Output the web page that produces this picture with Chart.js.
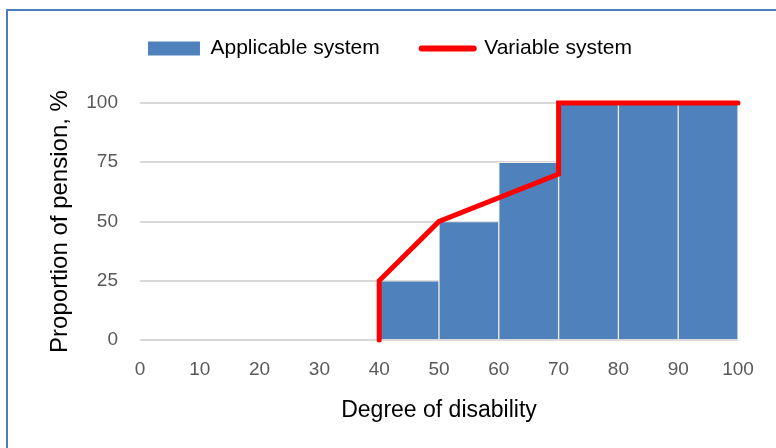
<!DOCTYPE html>
<html>
<head>
<meta charset="utf-8">
<script src="https://cdn.jsdelivr.net/npm/chart.js@4/dist/chart.umd.min.js"></script>
<style>
  html, body { margin: 0; padding: 0; background: #fff; overflow: hidden; }
  #wrap { position: relative; width: 776px; height: 448px; }
  #frame { position: absolute; left: 6px; top: 9px; width: 900px; height: 600px;
           border-left: 2px solid #4a7ebb; border-top: 2px solid #4a7ebb; }
  canvas { position: absolute; left: 0; top: 0; }
</style>
</head>
<body>
<div id="wrap">
  <div id="frame"></div>
  <canvas id="chart" width="776" height="448"></canvas>
</div>
<script>
// degree of disability bands (centre of each 10-point band) and proportion paid
const bandCentres = [45, 55, 65, 75, 85, 95];
const applicableValues = [25, 50, 75, 100, 100, 100];

// variable system: (degree, proportion) break points
const variableX = [40, 40, 50, 70, 70, 100];
const variableY = [0, 25, 50, 70, 100, 100];

const xTicks = [0, 10, 20, 30, 40, 50, 60, 70, 80, 90, 100];
const yTicks = [0, 25, 50, 75, 100];

const FONT = "'Liberation Sans', Arial, sans-serif";

// push the plot down a bit below the legend
const legendGap = {
  id: 'legendGap',
  beforeInit(chart) {
    const fit = chart.legend.fit;
    chart.legend.fit = function() {
      fit.bind(chart.legend)();
      this.height += 34;
    };
  }
};

const ctx = document.getElementById('chart').getContext('2d');

new Chart(ctx, {
  type: 'bar',
  data: {
    datasets: [
      {
        type: 'bar',
        label: 'Applicable system',
        data: bandCentres.map((x, i) => ({ x: x, y: applicableValues[i] })),
        backgroundColor: '#4f81bd',
        borderColor: '#eeece1',
        borderWidth: 1,
        barPercentage: 1,
        categoryPercentage: 1,
        order: 2
      },
      {
        type: 'line',
        label: 'Variable system',
        data: variableX.map((x, i) => ({ x: x, y: variableY[i] })),
        borderColor: '#ff0000',
        backgroundColor: '#ff0000',
        borderWidth: 5,
        borderCapStyle: 'round',
        pointRadius: 0,
        tension: 0,
        clip: false,
        order: 1
      }
    ]
  },
  plugins: [legendGap],
  options: {
    responsive: false,
    animation: false,
    layout: {
      padding: { left: 42, right: 38, top: -4, bottom: 20 }
    },
    plugins: {
      legend: {
        position: 'top',
        labels: {
          usePointStyle: true,
          pointStyleWidth: 52,
          boxHeight: 14,
          padding: 42,
          color: '#000',
          font: { family: FONT, size: 21 },
          generateLabels: function(chart) {
            return chart.data.datasets.map((ds, i) => ({
              text: ds.label,
              datasetIndex: i,
              fillStyle: ds.type === 'bar' ? '#4f81bd' : '#ff0000',
              strokeStyle: ds.type === 'bar' ? '#4f81bd' : '#ff0000',
              lineWidth: ds.type === 'bar' ? 0 : 6,
              lineCap: 'round',
              pointStyle: ds.type === 'bar' ? 'rect' : 'line',
              fontColor: '#000',
              hidden: false
            }));
          }
        }
      },
      tooltip: { enabled: false }
    },
    scales: {
      x: {
        type: 'linear',
        min: 0,
        max: 100,
        offset: false,
        afterBuildTicks: function(scale) {
          scale.ticks = xTicks.map(v => ({ value: v }));
        },
        afterFit: function(scale) {
          scale.height = 88;
        },
        grid: { display: false, drawTicks: false },
        border: { display: false },
        ticks: {
          color: '#595959',
          padding: 18,
          maxRotation: 0,
          font: { family: FONT, size: 19 }
        },
        title: {
          display: true,
          text: 'Degree of disability',
          color: '#000',
          padding: { top: 4, bottom: 4 },
          font: { family: FONT, size: 23 }
        }
      },
      y: {
        min: 0,
        max: 100,
        afterBuildTicks: function(scale) {
          scale.ticks = yTicks.map(v => ({ value: v }));
        },
        afterFit: function(scale) {
          scale.width = 98;
        },
        grid: { color: '#d9d9d9', lineWidth: 2, drawTicks: false },
        border: { display: false },
        ticks: {
          color: '#595959',
          padding: 22,
          font: { family: FONT, size: 19 }
        },
        title: {
          display: true,
          text: 'Proportion of pension, %',
          color: '#000',
          padding: { top: 4, bottom: 4 },
          font: { family: FONT, size: 24 }
        }
      }
    }
  }
});
</script>
</body>
</html>
